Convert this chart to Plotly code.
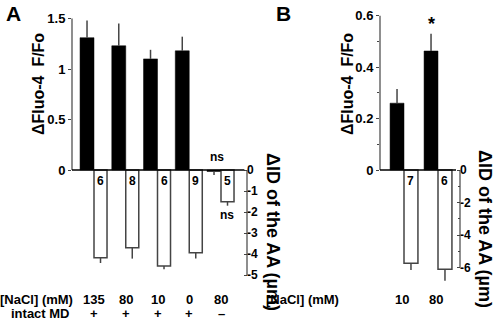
import plotly.graph_objects as go

# ---------------- data ----------------
nacl_a = ["135", "80", "10", "0", "80"]
intact_md = ["+", "+", "+", "+", "\u2013"]
fluo_a = [1.31, 1.23, 1.10, 1.18, -0.015]
fluo_a_err = [0.17, 0.22, 0.09, 0.14, 0.035]
id_a = [-4.18, -3.70, -4.57, -3.94, -1.51]
id_a_err = [0.25, 0.52, 0.16, 0.28, 0.19]
n_a = ["6", "8", "6", "9", "5"]

nacl_b = ["10", "80"]
fluo_b = [0.26, 0.463]
fluo_b_err = [0.055, 0.067]
id_b = [-5.72, -6.09]
id_b_err = [0.41, 0.70]
n_b = ["7", "6"]

W, H = 498, 320
FONT = "Liberation Sans, Arial, Helvetica, sans-serif"
AX = "#444444"


def px_x(p):
    return p / W


def px_y(p):
    return 1 - p / H


def yrange(zero_px, ppu):
    return [-(H - zero_px) / ppu, zero_px / ppu]


xa = list(range(len(nacl_a)))
xb = list(range(len(nacl_b)))

fig = go.Figure()

# Panel A black (Fluo-4)
fig.add_trace(go.Bar(
    x=xa, y=fluo_a, xaxis="x", yaxis="y", offset=-0.44, width=0.44,
    marker=dict(color="black", line=dict(color="black", width=0.5)),
    error_y=dict(type="data", symmetric=False, array=[e if v >= 0 else 0 for v, e in zip(fluo_a, fluo_a_err)],
                 arrayminus=[0 if v >= 0 else e for v, e in zip(fluo_a, fluo_a_err)],
                 color=AX, thickness=1.5, width=0),
    showlegend=False))
# Panel A white (ID)
fig.add_trace(go.Bar(
    x=xa, y=id_a, xaxis="x", yaxis="y2", offset=0.0, width=0.41,
    marker=dict(color="white", line=dict(color=AX, width=1.5)),
    error_y=dict(type="data", symmetric=False, array=[0] * len(id_a), arrayminus=id_a_err,
                 color=AX, thickness=1.5, width=0),
    showlegend=False))
# Panel B black
fig.add_trace(go.Bar(
    x=xb, y=fluo_b, xaxis="x2", yaxis="y3", offset=-0.41, width=0.41,
    marker=dict(color="black", line=dict(color="black", width=0.5)),
    error_y=dict(type="data", symmetric=False, array=fluo_b_err, arrayminus=[0] * len(fluo_b),
                 color=AX, thickness=1.5, width=0),
    showlegend=False))
# Panel B white
fig.add_trace(go.Bar(
    x=xb, y=id_b, xaxis="x2", yaxis="y4", offset=0.0, width=0.41,
    marker=dict(color="white", line=dict(color=AX, width=1.5)),
    error_y=dict(type="data", symmetric=False, array=[0] * len(id_b), arrayminus=id_b_err,
                 color=AX, thickness=1.5, width=0),
    showlegend=False))

tickfont = dict(family=FONT, size=13, color="black", weight="bold")
tickfont_r = dict(family=FONT, size=12, color="black", weight="bold")
common_y = dict(showgrid=False, zeroline=False, showline=False,
                ticklen=3, tickwidth=1, tickcolor=AX, fixedrange=True)

# pixel scales
ppu_a1 = 101.0
ppu_a2 = 21.0
ppu_b1 = 257.0
ppu_b2 = 16.3
zero_px = 170

ga = 31.75
gb = 34.0
xa_left = (94 - 72) / ga
xb_left = (404 - 380) / gb

fig.update_layout(
    width=W, height=H, autosize=False,
    margin=dict(l=0, r=0, t=0, b=0),
    paper_bgcolor="white", plot_bgcolor="white",
    barmode="overlay",
    xaxis=dict(domain=[px_x(72), px_x(247)], range=[-xa_left, -xa_left + 175 / ga],
               visible=False, fixedrange=True),
    xaxis2=dict(domain=[px_x(380), px_x(460)], range=[-xb_left, -xb_left + 80 / gb],
                visible=False, fixedrange=True),
    yaxis=dict(anchor="x", range=yrange(zero_px, ppu_a1), tickvals=[0, 0.5, 1, 1.5],
               ticktext=["0", "0.5", "1", "1.5"], ticks="outside", tickfont=tickfont, **common_y),
    yaxis2=dict(anchor="x", overlaying="y", side="right", range=yrange(zero_px, ppu_a2),
                tickvals=[0, -1, -2, -3, -4, -5], ticktext=["0", "-1", "-2", "-3", "-4", "-5"],
                ticks="inside", tickfont=tickfont_r, ticklabelstandoff=-1, **common_y),
    yaxis3=dict(anchor="x2", range=yrange(zero_px, ppu_b1), tickvals=[0, 0.2, 0.4, 0.6],
                ticktext=["0", "0.2", "0.4", "0.6"], ticks="outside", tickfont=tickfont,
                minor=dict(tickvals=[0.1, 0.3, 0.5], ticklen=2, tickcolor=AX, ticks="outside"),
                **common_y),
    yaxis4=dict(anchor="x2", overlaying="y3", side="right", range=yrange(zero_px, ppu_b2),
                tickvals=[0, -2, -4, -6], ticktext=["0", "-2", "-4", "-6"], ticks="inside",
                tickfont=tickfont_r, ticklabelstandoff=-1,
                minor=dict(tickvals=[-1, -3, -5], ticklen=2, tickcolor=AX, ticks="inside"),
                **common_y),
)

# axis lines and zero lines
shapes = [
    dict(type="line", xref="x domain", yref="y", x0=0, x1=0, y0=0, y1=1.5, line=dict(color=AX, width=1.2)),
    dict(type="line", xref="x domain", yref="y2", x0=1, x1=1, y0=0, y1=-5, line=dict(color=AX, width=1.2)),
    dict(type="line", xref="x domain", yref="y", x0=0, x1=0.985, y0=0, y1=0, line=dict(color="black", width=1.5)),
    dict(type="line", xref="x2 domain", yref="y3", x0=0, x1=0, y0=0, y1=0.6, line=dict(color=AX, width=1.2)),
    dict(type="line", xref="x2 domain", yref="y4", x0=1, x1=1, y0=0, y1=-6, line=dict(color=AX, width=1.2)),
    dict(type="line", xref="x2 domain", yref="y3", x0=0, x1=0.95, y0=0, y1=0, line=dict(color="black", width=1.5)),
]
fig.update_layout(shapes=shapes)

ann = []


def txt(x, y, s, size=13, xref="paper", yref="paper", angle=0, xanchor="center", yanchor="middle"):
    ann.append(dict(x=x, y=y, xref=xref, yref=yref, text=s, showarrow=False, textangle=angle,
                    xanchor=xanchor, yanchor=yanchor,
                    font=dict(family=FONT, size=size, color="black", weight="bold")))


# panel letters
txt(px_x(13), px_y(13), "A", size=21)
txt(px_x(283), px_y(13), "B", size=21)

# axis titles
txt(px_x(39), px_y(84), "\u0394Fluo-4  F/Fo", size=16, angle=-90)
txt(px_x(273), px_y(232), "\u0394ID of the AA (\u00b5m)", size=18, angle=90)
txt(px_x(485), px_y(229), "\u0394ID of the AA (\u00b5m)", size=18, angle=90)
txt(px_x(348), px_y(84), "\u0394Fluo-4  F/Fo", size=16, angle=-90)

# n values inside white bars
for i, s in enumerate(n_a):
    txt(i + 0.205, px_y(181), s, size=12, xref="x")
for i, s in enumerate(n_b):
    txt(i + 0.205, px_y(181), s, size=12, xref="x2")

# ns and star
txt(3.88, px_y(157), "ns", size=12, xref="x")
txt(4.2, px_y(215), "ns", size=12, xref="x")
txt(1 - 0.205, px_y(24), "*", size=18, xref="x2")

# bottom labels
txt(px_x(75), px_y(299), "[NaCl] (mM)", size=13, xanchor="right")
txt(px_x(72), px_y(313), "intact MD", size=13, xanchor="right")
for i, s in enumerate(nacl_a):
    txt(i, px_y(299), s, size=13, xref="x")
for i, s in enumerate(intact_md):
    txt(i, px_y(313), s, size=13, xref="x")
txt(px_x(341), px_y(299), "[NaCl] (mM)", size=13, xanchor="right")
for i, s in enumerate(nacl_b):
    txt(i - 0.05, px_y(299), s, size=13, xref="x2")

fig.update_layout(annotations=ann)
fig.write_html("out.html", config={"displayModeBar": False},
               post_script="document.body.style.margin='0';document.body.style.overflow='hidden';")
